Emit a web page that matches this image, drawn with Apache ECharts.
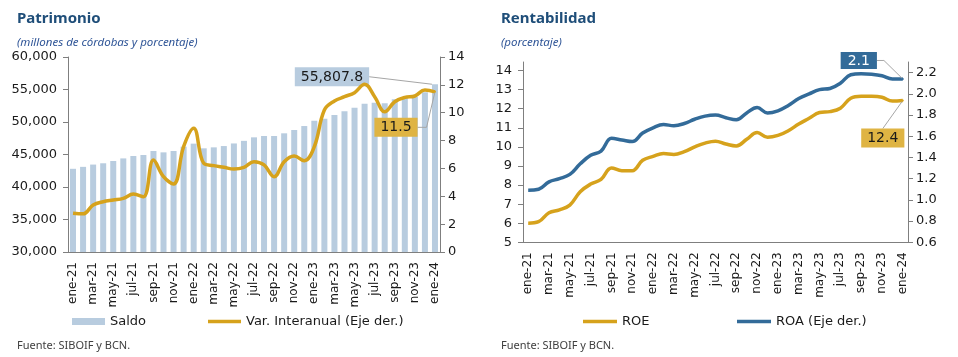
<!DOCTYPE html>
<html><head><meta charset="utf-8">
<script src="https://cdn.jsdelivr.net/npm/echarts@6/dist/echarts.min.js"></script>
<style>html,body{margin:0;padding:0;background:#fff}#c{width:958px;height:357px}</style>
</head><body><div id="c"></div>
<script>
const months = ['ene-21','feb-21','mar-21','abr-21','may-21','jun-21','jul-21','ago-21','sep-21','oct-21','nov-21','dic-21',
  'ene-22','feb-22','mar-22','abr-22','may-22','jun-22','jul-22','ago-22','sep-22','oct-22','nov-22','dic-22',
  'ene-23','feb-23','mar-23','abr-23','may-23','jun-23','jul-23','ago-23','sep-23','oct-23','nov-23','dic-23','ene-24'];
const saldo = [42800,43100,43450,43650,44000,44400,44770,44920,45540,45330,45540,46200,
  46670,45950,46100,46300,46700,47100,47640,47850,47850,48260,48770,49380,
  50200,50510,51080,51640,52200,52820,52970,52870,53490,53740,53900,54560,55807.8];
const varInteranual = [2.78,2.74,3.37,3.61,3.73,3.85,4.16,3.97,6.6,5.41,4.88,7.56,
  8.88,6.37,6.2,6.08,5.96,6.08,6.48,6.25,5.41,6.48,6.89,6.55,
  7.56,10.19,10.84,11.15,11.44,12.04,11.15,10.07,10.79,11.1,11.2,11.63,11.5];
const roe = [6.0,6.08,6.55,6.7,6.95,7.65,8.05,8.3,8.9,8.75,8.75,9.3,
  9.5,9.65,9.6,9.75,10.0,10.2,10.3,10.15,10.05,10.4,10.75,10.5,
  10.6,10.85,11.2,11.5,11.8,11.85,12.03,12.55,12.65,12.65,12.6,12.4,12.43];
const roa = [1.09,1.10,1.17,1.20,1.24,1.34,1.42,1.46,1.58,1.565,1.55,1.63,
  1.68,1.71,1.70,1.72,1.76,1.79,1.80,1.775,1.755,1.82,1.87,1.82,
  1.84,1.89,1.955,2.0,2.04,2.05,2.10,2.18,2.19,2.185,2.17,2.14,2.14];

const GOLD = '#D6A21C', BLUE = '#336B99', BAR = '#B8CCDF', GOLDBOX = '#DFB443';
const AX = '#7F7F7F', TXT = '#1a1a1a';
const FONT = 'DejaVu Sans';
const last = months.length - 1;

function withLabel(arr, extra) {
  return arr.map((v, i) => i === last ? Object.assign({value: v}, extra) : v);
}
const boxLabel = (bg, color, fmt) => ({
  show: true, position: 'top', backgroundColor: bg, color: color, fontFamily: FONT, fontSize: 14,
  padding: [3, 6, 2, 6], formatter: fmt
});
const guide = (len2) => ({show: true, length2: len2, lineStyle: {color: '#A6A6A6', width: 1}});

const catAxis = (gi) => ({
  type: 'category', gridIndex: gi, data: months, boundaryGap: true,
  axisLine: {lineStyle: {color: AX, width: 1}},
  axisTick: {interval: 1, length: 5, lineStyle: {color: AX}},
  axisLabel: {interval: 1, rotate: 90, fontFamily: FONT, fontSize: 12, color: TXT, margin: 10}
});
const valAxis = (gi, pos, min, max, step, fmt, margin) => ({
  type: 'value', gridIndex: gi, position: pos, min: min, max: max, interval: step,
  splitLine: {show: false},
  axisLine: {show: true, lineStyle: {color: AX, width: 1}},
  axisTick: {show: true, length: 5, lineStyle: {color: AX}},
  axisLabel: {fontFamily: FONT, fontSize: 13, color: TXT, margin: margin, formatter: fmt}
});

const chart = echarts.init(document.getElementById('c'), null, {renderer: 'canvas'});
const fmtThousands = v => v.toLocaleString('en-US');
const yRoe = valAxis(1, 'left', 5, 14.45, 1, v => (Math.abs(v - Math.round(v)) < 1e-6 ? String(Math.round(v)) : ''), 11);
yRoe.axisLabel.showMaxLabel = false;
const yRoa = valAxis(1, 'right', 0.6, 2.3, 0.2, v => v.toFixed(1), 8);
yRoa.axisLabel.showMaxLabel = false;

const legendText = {fontFamily: FONT, fontSize: 13, color: TXT};
const titleStyle = {fontFamily: 'Noto Sans', fontWeight: 'bold', fontSize: 15, color: '#1F4E79'};
const subStyle = {fontFamily: 'Noto Sans', fontStyle: 'italic', fontWeight: 'normal', fontSize: 11.5, color: '#2F5597'};
const srcStyle = {fontFamily: 'Noto Sans', fontWeight: 'normal', fontSize: 11, color: '#404040'};

chart.setOption({
  animation: false,
  backgroundColor: '#ffffff',
  title: [
    {text: 'Patrimonio', left: 12, top: 6, textStyle: titleStyle},
    {text: '(millones de córdobas y porcentaje)', left: 12, top: 32, textStyle: subStyle},
    {text: 'Fuente: SIBOIF y BCN.', left: 12, top: 335, textStyle: srcStyle},
    {text: 'Rentabilidad', left: 496, top: 6, textStyle: titleStyle},
    {text: '(porcentaje)', left: 496, top: 32, textStyle: subStyle},
    {text: 'Fuente: SIBOIF y BCN.', left: 496, top: 335, textStyle: srcStyle}
  ],
  legend: [
    {data: [{name: 'Saldo', icon: 'rect'}], left: 72, top: 315, padding: 0, itemWidth: 33, itemHeight: 7, textStyle: legendText},
    {data: [{name: 'Var. Interanual (Eje der.)', icon: 'rect'}], left: 208, top: 315, padding: 0, itemWidth: 33, itemHeight: 3.5, textStyle: legendText},
    {data: [{name: 'ROE', icon: 'rect'}], left: 583, top: 315, padding: 0, itemWidth: 34, itemHeight: 3.5, textStyle: legendText},
    {data: [{name: 'ROA (Eje der.)', icon: 'rect'}], left: 737, top: 315, padding: 0, itemWidth: 34, itemHeight: 3.5, textStyle: legendText}
  ],
  grid: [
    {left: 68, top: 57, width: 372, height: 195},
    {left: 523, top: 62, width: 385, height: 180.3}
  ],
  xAxis: [catAxis(0), catAxis(1)],
  yAxis: [
    valAxis(0, 'left', 30000, 60000, 5000, fmtThousands, 11),
    valAxis(0, 'right', 0, 14, 2, v => String(v), 8),
    yRoe,
    yRoa
  ],
  series: [
    {
      name: 'Saldo', type: 'bar', xAxisIndex: 0, yAxisIndex: 0, barWidth: 6,
      itemStyle: {color: BAR},
      data: withLabel(saldo, {
        label: boxLabel(BAR, TXT, p => p.value.toLocaleString('en-US', {minimumFractionDigits: 1, maximumFractionDigits: 1})),
        labelLine: guide(0)
      }),
      labelLayout: {dx: -103, dy: 7}
    },
    {
      name: 'Var. Interanual (Eje der.)', type: 'line', xAxisIndex: 0, yAxisIndex: 1, smooth: 0.4,
      symbol: 'none', showSymbol: true, showAllSymbol: true,
      lineStyle: {color: GOLD, width: 3.5}, itemStyle: {color: GOLD},
      data: withLabel(varInteranual, {
        symbol: 'circle', symbolSize: 2,
        label: boxLabel(GOLDBOX, TXT, p => p.value.toFixed(1)),
        labelLine: guide(9)
      }),
      labelLayout: {dx: -39, dy: 51},
      z: 3
    },
    {
      name: 'ROE', type: 'line', xAxisIndex: 1, yAxisIndex: 2, smooth: 0.4,
      symbol: 'none', showSymbol: true, showAllSymbol: true,
      lineStyle: {color: GOLD, width: 3.5}, itemStyle: {color: GOLD},
      data: withLabel(roe, {
        symbol: 'circle', symbolSize: 2,
        label: boxLabel(GOLDBOX, TXT, p => p.value.toFixed(1)),
        labelLine: guide(0)
      }),
      labelLayout: {dx: -20, dy: 53}
    },
    {
      name: 'ROA (Eje der.)', type: 'line', xAxisIndex: 1, yAxisIndex: 3, smooth: 0.4,
      symbol: 'none', showSymbol: true, showAllSymbol: true,
      lineStyle: {color: BLUE, width: 3.5}, itemStyle: {color: BLUE},
      data: withLabel(roa, {
        symbol: 'circle', symbolSize: 2,
        label: Object.assign(boxLabel(BLUE, '#ffffff', p => p.value.toFixed(1)), {padding: [2, 7, 1, 7]}),
        labelLine: guide(7)
      }),
      labelLayout: {dx: -44, dy: -4}
    }
  ]
});
</script>
</body></html>
